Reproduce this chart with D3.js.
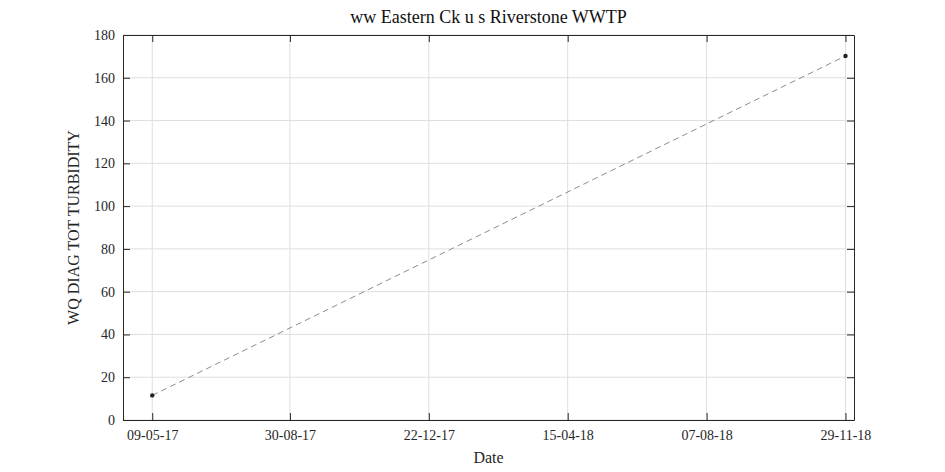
<!DOCTYPE html>
<html><head><meta charset="utf-8">
<script src="https://cdn.jsdelivr.net/npm/d3@7"></script>
<style>body{margin:0;background:#fff}text{font-family:"Liberation Serif","DejaVu Serif",serif}</style>
</head><body><div id="chart"></div>
<script>
var dates = ["2017-05-09", "2018-11-29"];
var values = [11.5, 170.2];
var tickDates = ["2017-05-09", "2017-08-30", "2017-12-22", "2018-04-15", "2018-08-07", "2018-11-29"];
var yTicks = [0, 20, 40, 60, 80, 100, 120, 140, 160, 180];

var parse = d3.timeParse("%Y-%m-%d");
var fmt = d3.timeFormat("%d-%m-%y");
var margin = {top: 35, right: 91, bottom: 52, left: 123},
    width = 945 - margin.left - margin.right,
    height = 472 - margin.top - margin.bottom;

var svg = d3.select("#chart").append("svg")
    .attr("width", 945).attr("height", 472)
  .append("g")
    .attr("transform", "translate(" + margin.left + "," + margin.top + ")");

var t0 = parse(dates[0]), t1 = parse(dates[1]);
var x = d3.scaleTime()
    .domain([d3.timeDay.offset(t0, -23.8), d3.timeDay.offset(t1, 7.4)])
    .range([0, width]);
var y = d3.scaleLinear().domain([0, 180]).range([height, 0]);
var tks = tickDates.map(parse);

// grid
svg.append("g").selectAll("line").data(tks).enter().append("line")
    .attr("x1", d => x(d)).attr("x2", d => x(d)).attr("y1", 0).attr("y2", height)
    .attr("stroke", "#dfdfdf");
svg.append("g").selectAll("line").data(yTicks).enter().append("line")
    .attr("y1", d => y(d)).attr("y2", d => y(d)).attr("x1", 0).attr("x2", width)
    .attr("stroke", "#dfdfdf");

// axes with inward ticks
function style(g) { g.select(".domain").attr("stroke", "#262626"); g.selectAll("line").attr("stroke", "#262626");
  g.selectAll("text").attr("font-size", 14).attr("fill", "#262626"); }
svg.append("g").attr("transform", "translate(0," + height + ")")
    .call(d3.axisBottom(x).tickValues(tks).tickFormat(fmt).tickSizeInner(-7).tickSizeOuter(0).tickPadding(10))
    .call(style);
svg.append("g").call(d3.axisTop(x).tickValues(tks).tickFormat("").tickSizeInner(-7).tickSizeOuter(0)).call(style);
svg.append("g")
    .call(d3.axisLeft(y).tickValues(yTicks).tickSizeInner(-7).tickSizeOuter(0).tickPadding(8))
    .call(style);
svg.append("g").attr("transform", "translate(" + width + ",0)")
    .call(d3.axisRight(y).tickValues(yTicks).tickFormat("").tickSizeInner(-7).tickSizeOuter(0)).call(style);

var pts = dates.map((d, i) => ({t: parse(d), v: values[i]}));
svg.append("path").datum(pts)
    .attr("d", d3.line().x(d => x(d.t)).y(d => y(d.v)))
    .attr("fill", "none").attr("stroke", "#8c8c8c").attr("stroke-dasharray", "6,4");
svg.selectAll("circle.p").data(pts).enter().append("circle")
    .attr("cx", d => x(d.t)).attr("cy", d => y(d.v)).attr("r", 2.2).attr("fill", "#222");

svg.append("text").attr("x", width / 2).attr("y", -12).attr("text-anchor", "middle")
    .attr("font-size", 18).attr("fill", "#111").text("ww Eastern Ck u s Riverstone WWTP");
svg.append("text").attr("x", width / 2).attr("y", height + 43).attr("text-anchor", "middle")
    .attr("font-size", 16).attr("fill", "#262626").text("Date");
svg.append("text").attr("transform", "translate(-44," + height / 2 + ") rotate(-90)")
    .attr("text-anchor", "middle").attr("font-size", 16).attr("fill", "#262626").text("WQ DIAG TOT TURBIDITY");
</script></body></html>
